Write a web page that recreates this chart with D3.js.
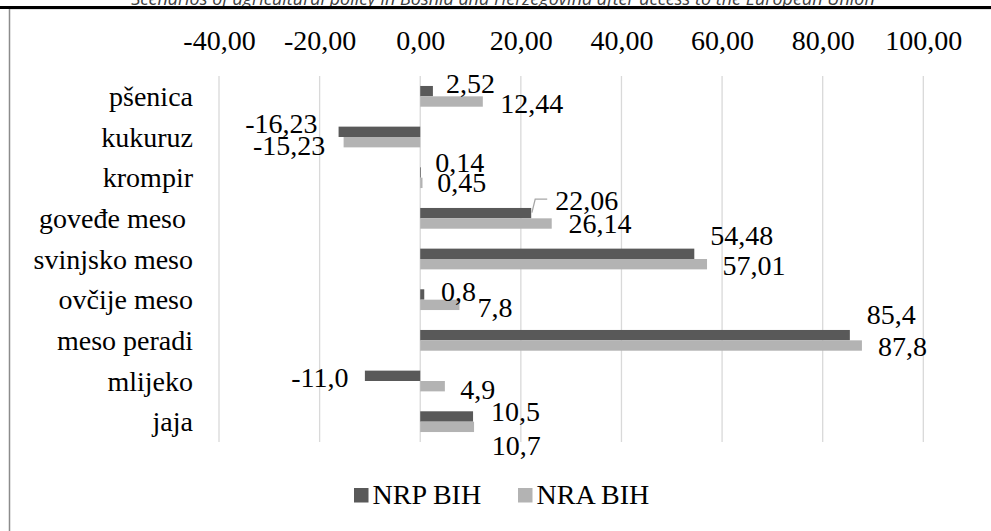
<!DOCTYPE html>
<html>
<head>
<meta charset="utf-8">
<script src="https://cdn.jsdelivr.net/npm/d3@7"></script>
</head>
<body style="margin:0">
<script>
// data
var categories = ["pšenica", "kukuruz", "krompir", "goveđe meso ", "svinjsko meso", "ovčije meso", "meso peradi", "mlijeko", "jaja"];
var seriesNames = ["NRP BIH", "NRA BIH"];
var nrpValues = [2.52, -16.23, 0.14, 22.06, 54.48, 0.8, 85.4, -11.0, 10.5];
var nraValues = [12.44, -15.23, 0.45, 26.14, 57.01, 7.8, 87.8, 4.9, 10.7];
var nrpLabels = ["2,52", "-16,23", "0,14", "22,06", "54,48", "0,8", "85,4", "-11,0", "10,5"];
var nraLabels = ["12,44", "-15,23", "0,45", "26,14", "57,01", "7,8", "87,8", "4,9", "10,7"];
var tickValues = [-40, -20, 0, 20, 40, 60, 80, 100];
var titleText = "Scenarios of agricultural policy in Bosnia and Herzegovina after access to the European Union";

// layout
var W = 991, H = 531;
var plot = {left: 219, right: 923.3, top: 76, bottom: 442};
var colors = {"NRP BIH": "#595959", "NRA BIH": "#b3b3b3"};
var fontSize = "28px";
var serif = "'Liberation Serif'";

// hand-moved data labels (dx, dy) as in the original
var labelNudge = {
  "NRP BIH": [[-3, -8.5], [-5, -9], [-1.7, -10.5], [8, -13.2], [0, -18.8], [0.7, -3.5], [1, -21.2], [-0.4, 1.2], [1.9, -5.5]],
  "NRA BIH": [[1.4, 1.2], [-2.4, 2.8], [-1.3, -1.1], [0.8, -0.5], [-0.5, 0.8], [2, 2.2], [0, 0.5], [-0.6, 2.8], [1.7, 18.2]]
};

var rows = [];
categories.forEach(function(c, i) {
  rows.push({cat: c, i: i, series: "NRP BIH", value: nrpValues[i], label: nrpLabels[i]});
  rows.push({cat: c, i: i, series: "NRA BIH", value: nraValues[i], label: nraLabels[i]});
});

var svg = d3.select("body").append("svg")
  .attr("width", W)
  .attr("height", H);

svg.append("rect").attr("width", W).attr("height", H).attr("fill", "#fff");

var xScale = d3.scaleLinear()
  .domain([-40, 100])
  .range([plot.left, plot.right]);

var yScale = d3.scaleBand()
  .domain(categories)
  .range([plot.top, plot.bottom])
  .paddingInner(0.49)
  .paddingOuter(0.245);

var ySeries = d3.scaleBand()
  .domain(seriesNames)
  .range([0, yScale.bandwidth()]);

var locale = d3.formatLocale({decimal: ",", thousands: ".", grouping: [3], currency: ["", ""], minus: "-"});
var fmt = locale.format(".2f");

// header of the page (cut at the top in the original)
svg.append("text")
  .attr("x", 503)
  .attr("y", 5)
  .attr("text-anchor", "middle")
  .style("font-family", "'Open Sans'")
  .style("font-style", "italic")
  .style("font-size", "18px")
  .style("fill", "#404040")
  .text(titleText);

// chart frame
svg.append("rect")
  .attr("x", 9.5).attr("y", 8.5)
  .attr("width", W + 10).attr("height", H + 10)
  .attr("fill", "none")
  .attr("stroke", "#8c8c8c")
  .attr("stroke-width", 1.5);

svg.append("rect")
  .attr("x", 0).attr("y", 6)
  .attr("width", W).attr("height", 3)
  .attr("fill", "#000");

// gridlines
svg.append("g").selectAll("line").data(tickValues).enter()
  .append("line")
  .attr("x1", function(d) { return xScale(d); })
  .attr("x2", function(d) { return xScale(d); })
  .attr("y1", plot.top)
  .attr("y2", plot.bottom)
  .attr("stroke", "#d9d9d9")
  .attr("stroke-width", 1.3);

// x axis on top
var xAxis = d3.axisTop(xScale).tickValues(tickValues).tickFormat(fmt).tickSize(0).tickPadding(26);
var gx = svg.append("g")
  .attr("transform", "translate(0," + plot.top + ")")
  .call(xAxis);
gx.select(".domain").remove();
gx.selectAll("text")
  .style("font-family", serif)
  .style("font-size", fontSize)
  .attr("fill", "#000");

// category axis
var yAxis = d3.axisLeft(yScale).tickSize(0).tickPadding(7);
var gy = svg.append("g")
  .attr("transform", "translate(200,0)")
  .call(yAxis);
gy.select(".domain").remove();
gy.selectAll("text")
  .style("font-family", serif)
  .style("font-size", fontSize)
  .style("white-space", "pre")
  .attr("fill", "#000")
  .attr("dy", "0.35em");

// bars
svg.append("g").selectAll("rect").data(rows).enter()
  .append("rect")
  .attr("x", function(d) { return xScale(Math.min(0, d.value)); })
  .attr("y", function(d) { return yScale(d.cat) + ySeries(d.series); })
  .attr("width", function(d) { return Math.abs(xScale(d.value) - xScale(0)); })
  .attr("height", ySeries.bandwidth())
  .attr("fill", function(d) { return colors[d.series]; });

function barCenter(d) {
  return yScale(d.cat) + ySeries(d.series) + ySeries.bandwidth() / 2;
}

// leader line for goveđe meso NRP label
var lead = rows.filter(function(d) { return d.series === "NRP BIH" && d.i === 3; })[0];
var lx = xScale(lead.value), ly = barCenter(lead);
svg.append("path")
  .attr("d", "M" + (lx + 0.7) + "," + (ly - 0.5) + "L" + (lx + 4) + "," + (ly - 14) + "L" + (lx + 16) + "," + (ly - 14))
  .attr("fill", "none")
  .attr("stroke", "#a6a6a6")
  .attr("stroke-width", 1.3);

// data labels
svg.append("g").selectAll("text").data(rows).enter()
  .append("text")
  .attr("x", function(d) {
    var n = labelNudge[d.series][d.i][0];
    return d.value >= 0 ? xScale(d.value) + 16 + n : xScale(d.value) - 16 + n;
  })
  .attr("y", function(d) { return barCenter(d) + 10 + labelNudge[d.series][d.i][1]; })
  .attr("text-anchor", function(d) { return d.value >= 0 ? "start" : "end"; })
  .style("font-family", serif)
  .style("font-size", fontSize)
  .attr("fill", "#000")
  .text(function(d) { return d.label; });

// legend
var legendX = [354, 518];
var legend = svg.append("g").selectAll("g").data(seriesNames).enter()
  .append("g")
  .attr("transform", function(d, i) { return "translate(" + legendX[i] + ",488)"; });
legend.append("rect")
  .attr("width", 14.5).attr("height", 14.5)
  .attr("fill", function(d) { return colors[d]; });
legend.append("text")
  .attr("x", 18.5)
  .attr("y", 16)
  .style("font-family", serif)
  .style("font-size", fontSize)
  .attr("fill", "#000")
  .text(function(d) { return d; });
</script>
</body>
</html>
